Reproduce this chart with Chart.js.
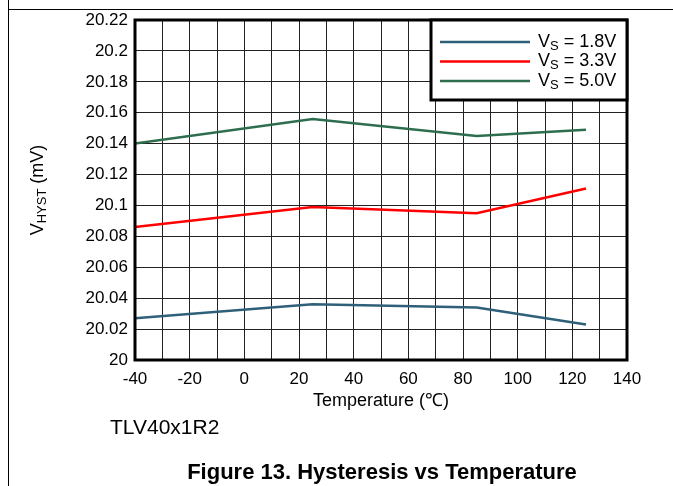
<!DOCTYPE html>
<html>
<head>
<meta charset="utf-8">
<title>Hysteresis vs Temperature</title>
<script src="https://cdn.jsdelivr.net/npm/chart.js@4"></script>
<style>
    html, body { margin: 0; padding: 0; background: #fff; }
    body { width: 673px; height: 486px; position: relative; overflow: hidden;
           font-family: "Liberation Sans", Arial, sans-serif; color: #000; }
    #wrap { position: absolute; left: 0; top: 0; width: 673px; height: 486px; }
    .rule-v { position: absolute; left: 8px; top: 0; width: 1px; height: 486px; background: #000; }
    .rule-h { position: absolute; left: 8px; top: 9px; width: 665px; height: 1px; background: #000; }
    .device { position: absolute; left: 110px; top: 416px; font-size: 21px; line-height: 21px; }
    .caption { position: absolute; left: 0; width: 764px; top: 461px; text-align: center;
               font-size: 22px; line-height: 22px; font-weight: bold; }
</style>
</head>
<body>
<div class="rule-v"></div>
<div class="rule-h"></div>
<div id="wrap"><canvas id="hystChart"></canvas></div>
<div class="device">TLV40x1R2</div>
<div class="caption">Figure 13. Hysteresis vs Temperature</div>

<script>
// Values
const temps = [-40, 25, 85, 125];
const vs18 = [20.027, 20.036, 20.034, 20.023];
const vs33 = [20.086, 20.099, 20.095, 20.111];
const vs50 = [20.140, 20.156, 20.145, 20.149];
const supplyLabels = ['1.8V', '3.3V', '5.0V'];
const seriesColors = ['#2f6079', '#ff0000', '#2d6e4e'];

const FONT = '"Liberation Sans", Arial, sans-serif';

function toPoints(values) {
    return temps.map((t, i) => ({ x: t, y: values[i] }));
}

// plot frame, legend box and the subscripted y title
const framePlugin = {
    id: 'frame',
    afterDraw(chart) {
        const { ctx, chartArea: a } = chart;
        ctx.save();

        ctx.lineWidth = 3;
        ctx.strokeStyle = '#000';
        ctx.strokeRect(a.left, a.top, a.right - a.left, a.bottom - a.top);

        // legend
        const w = 196, h = 80;
        const left = a.right - w, top = a.top;
        ctx.fillStyle = '#fff';
        ctx.fillRect(left, top, w, h);
        ctx.strokeRect(left, top, w, h);

        ctx.textBaseline = 'middle';
        ctx.textAlign = 'left';
        chart.data.datasets.forEach((ds, i) => {
            const y = top + 22 + i * 19.5;
            ctx.strokeStyle = ds.borderColor;
            ctx.lineWidth = ds.borderWidth;
            ctx.beginPath();
            ctx.moveTo(left + 9, y);
            ctx.lineTo(left + 99, y);
            ctx.stroke();

            ctx.fillStyle = '#000';
            let x = left + 107;
            ctx.font = '18px ' + FONT;
            ctx.fillText('V', x, y);
            x += ctx.measureText('V').width;
            ctx.font = '13px ' + FONT;
            ctx.fillText('S', x, y + 4);
            x += ctx.measureText('S').width;
            ctx.font = '18px ' + FONT;
            ctx.fillText(' = ' + supplyLabels[i], x, y);
        });

        // y axis title
        ctx.translate(38, (a.top + a.bottom) / 2);
        ctx.rotate(-Math.PI / 2);
        ctx.font = '18px ' + FONT;
        const wV = ctx.measureText('V').width;
        const wTail = ctx.measureText(' (mV)').width;
        ctx.font = '13px ' + FONT;
        const wSub = ctx.measureText('HYST').width;
        let x = -(wV + wSub + wTail) / 2;
        ctx.fillStyle = '#000';
        ctx.font = '18px ' + FONT;
        ctx.fillText('V', x, 0);
        x += wV;
        ctx.font = '13px ' + FONT;
        ctx.fillText('HYST', x, 4);
        x += wSub;
        ctx.font = '18px ' + FONT;
        ctx.fillText(' (mV)', x, 0);

        ctx.restore();
    }
};

Chart.defaults.font.family = FONT;
Chart.defaults.color = '#000';

new Chart(document.getElementById('hystChart'), {
    type: 'line',
    data: {
        datasets: [vs18, vs33, vs50].map((vals, i) => ({
            label: 'VS = ' + supplyLabels[i],
            data: toPoints(vals),
            borderColor: seriesColors[i],
            backgroundColor: seriesColors[i],
            borderWidth: 2.5,
            pointRadius: 0,
            tension: 0
        }))
    },
    options: {
        responsive: true,
        maintainAspectRatio: false,
        animation: false,
        layout: { padding: { left: 0, top: 20, right: 46, bottom: 70 } },
        plugins: {
            legend: { display: false },
            tooltip: { enabled: false }
        },
        scales: {
            x: {
                type: 'linear',
                min: -40,
                max: 140,
                afterFit: (scale) => { scale.height = 56; },
                ticks: {
                    stepSize: 10,
                    autoSkip: false,
                    maxRotation: 0,
                    padding: 9,
                    font: { size: 17 },
                    callback: (v) => (v % 20 === 0 ? String(v) : '')
                },
                grid: { color: '#222', lineWidth: 1, drawTicks: false },
                border: { display: false },
                title: {
                    display: true,
                    text: 'Temperature (\u2103)',
                    font: { size: 18 },
                    padding: { top: 0, bottom: 4 }
                }
            },
            y: {
                min: 20,
                max: 20.22,
                afterFit: (scale) => { scale.width = 135; },
                ticks: {
                    stepSize: 0.02,
                    padding: 7,
                    font: { size: 17 },
                    callback: (v) => String(Number(v.toFixed(2)))
                },
                grid: { color: '#222', lineWidth: 1, drawTicks: false },
                border: { display: false }
            }
        }
    },
    plugins: [framePlugin]
});
</script>
</body>
</html>
